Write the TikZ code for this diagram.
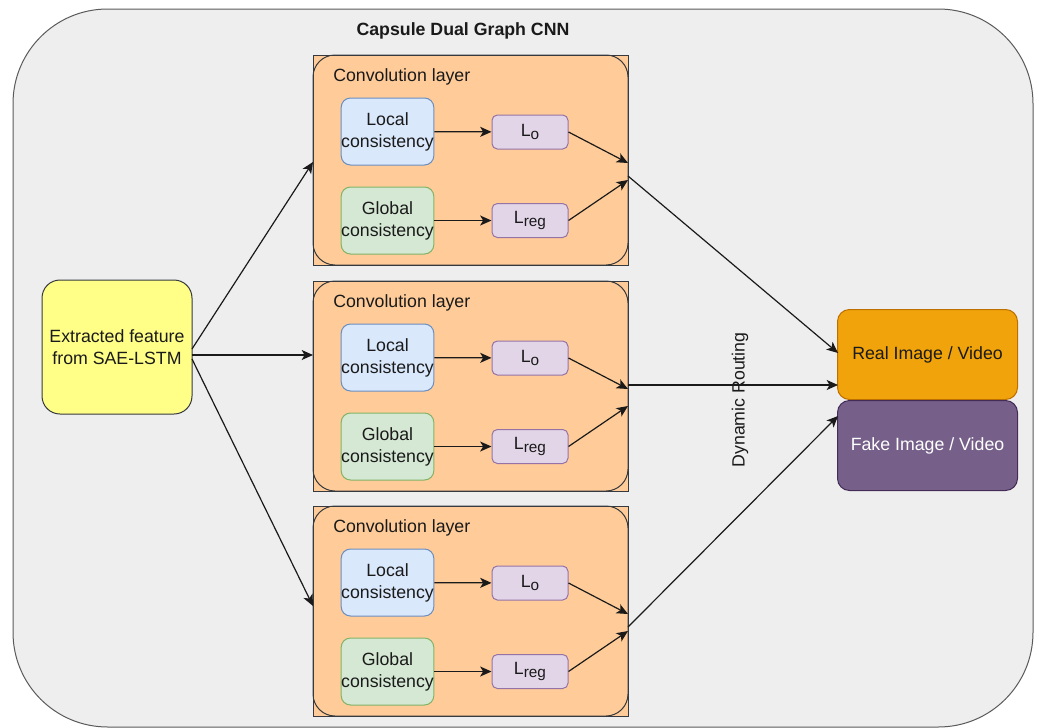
\documentclass[tikz,border=0pt]{standalone}
\usepackage{fontspec}
\setmainfont{Liberation Sans}
\usetikzlibrary{arrows.meta}

\definecolor{capfill}{HTML}{EEEEEE}
\definecolor{capline}{HTML}{5A5A5A}
\definecolor{darkline}{HTML}{36393D}
\definecolor{convfill}{HTML}{FFCC99}
\definecolor{extfill}{HTML}{FFFF88}
\definecolor{localfill}{HTML}{DAE8FC}
\definecolor{localline}{HTML}{6C8EBF}
\definecolor{globalfill}{HTML}{D5E8D4}
\definecolor{globalline}{HTML}{82B366}
\definecolor{lossfill}{HTML}{E1D5E7}
\definecolor{lossline}{HTML}{9673A6}
\definecolor{realfill}{HTML}{F0A30A}
\definecolor{realline}{HTML}{BD7000}
\definecolor{fakefill}{HTML}{76608A}
\definecolor{fakeline}{HTML}{432D57}
\definecolor{ink}{HTML}{1A1A1A}

\tikzset{
  txt/.style={font=\fontsize{13.3}{16.5}\selectfont, text=ink, align=center, inner sep=0pt},
  box/.style={txt, draw, line width=0.75pt, rounded corners=#1},
  box/.default=7pt,
  extbox/.style={box=13.5pt, fill=extfill, draw=darkline, minimum width=112.5pt, minimum height=100.5pt},
  convrect/.style={draw=darkline, fill=convfill, line width=0.75pt, minimum width=236.25pt, minimum height=157.5pt, inner sep=0pt},
  convround/.style={draw=darkline, line width=0.75pt, rounded corners=16.5pt, minimum width=236.25pt, minimum height=157.5pt, inner sep=0pt},
  localbox/.style={box, fill=localfill, draw=localline, minimum width=68.25pt, minimum height=50.25pt},
  globalbox/.style={box, fill=globalfill, draw=globalline, minimum width=68.25pt, minimum height=50.25pt},
  lossbox/.style={box=4pt, fill=lossfill, draw=lossline, minimum width=57pt, minimum height=25.5pt},
  outbox/.style={box=9pt, minimum width=135pt, minimum height=67.5pt},
  conn/.style={draw=ink, line width=0.9pt, -{Stealth[length=8.5pt,width=7.5pt,inset=2.2pt]}},
}

\newcommand{\lossO}{L\raisebox{-2.6pt}{\fontsize{11.5}{12}\selectfont o}}
\newcommand{\lossReg}{L\raisebox{-1.8pt}{\fontsize{11.5}{12}\selectfont reg}}

\begin{document}
\begin{tikzpicture}[x=0.75pt, y=-0.75pt]
  \useasboundingbox (0,0) rectangle (1039,728);

  % outer capsule container
  \draw[fill=capfill, draw=capline, line width=0.75pt, rounded corners=71pt]
    (13,9) rectangle (1033,727);
  \node[txt, font=\fontsize{13.3}{15.5}\selectfont\bfseries] (title) at (463,31) {Capsule Dual Graph CNN};

  % input features
  \node[extbox] (ext) at (117,347) {Extracted feature\\from SAE-LSTM};

  % three convolution layers
  \foreach \i/\top in {1/55, 2/281, 3/506} {
    \node[convrect] (conv\i) at (470.5,\top+105) {};
    \node[convround] (convr\i) at (470.5,\top+105) {};
    \node[txt, anchor=west] (convlbl\i) at (333,\top+22) {Convolution layer};
    \node[localbox] (local\i) at (387.5,\top+76.5) {Local\\consistency};
    \node[globalbox] (global\i) at (387.5,\top+165.5) {Global\\consistency};
    \node[lossbox] (lo\i) at (530,\top+77) {\lossO};
    \node[lossbox] (lreg\i) at (530,\top+165.5) {\lossReg};
    \coordinate (inA\i) at (628,\top+108);
    \coordinate (inB\i) at (628,\top+125);
    \draw[conn] (local\i) -- (lo\i);
    \draw[conn] (global\i) -- (lreg\i);
    \draw[conn] (lo\i.east) -- (inA\i);
    \draw[conn] (lreg\i.east) -- (inB\i);
  }

  % outputs
  \node[outbox, fill=realfill, draw=realline] (real) at (927.5,354.5) {Real Image / Video};
  \node[outbox, fill=fakefill, draw=fakeline, text=white] (fake) at (927.5,445.5) {Fake Image / Video};

  % input to convolution layers
  \coordinate (src1) at (192,349);
  \coordinate (src2) at (192,355);
  \coordinate (src3) at (192,359);
  \coordinate (dst1) at (313,162);
  \coordinate (dst2) at (313,355);
  \coordinate (dst3) at (313,606);
  \draw[conn] (src1) -- (dst1);
  \draw[conn] (src2) -- (dst2);
  \draw[conn] (src3) -- (dst3);

  % dynamic routing to outputs
  \coordinate (out1) at (628,176);
  \coordinate (out2) at (628,385);
  \coordinate (out3) at (628,627);
  \coordinate (tgt1) at (838,353);
  \coordinate (tgt2) at (838,385);
  \coordinate (tgt3) at (838,416);
  \draw[conn] (out1) -- (tgt1);
  \draw[conn] (out2) -- (tgt2);
  \draw[conn] (out3) -- (tgt3);

  \node[txt, rotate=90] (routing) at (740,400) {Dynamic Routing};
\end{tikzpicture}
\end{document}
